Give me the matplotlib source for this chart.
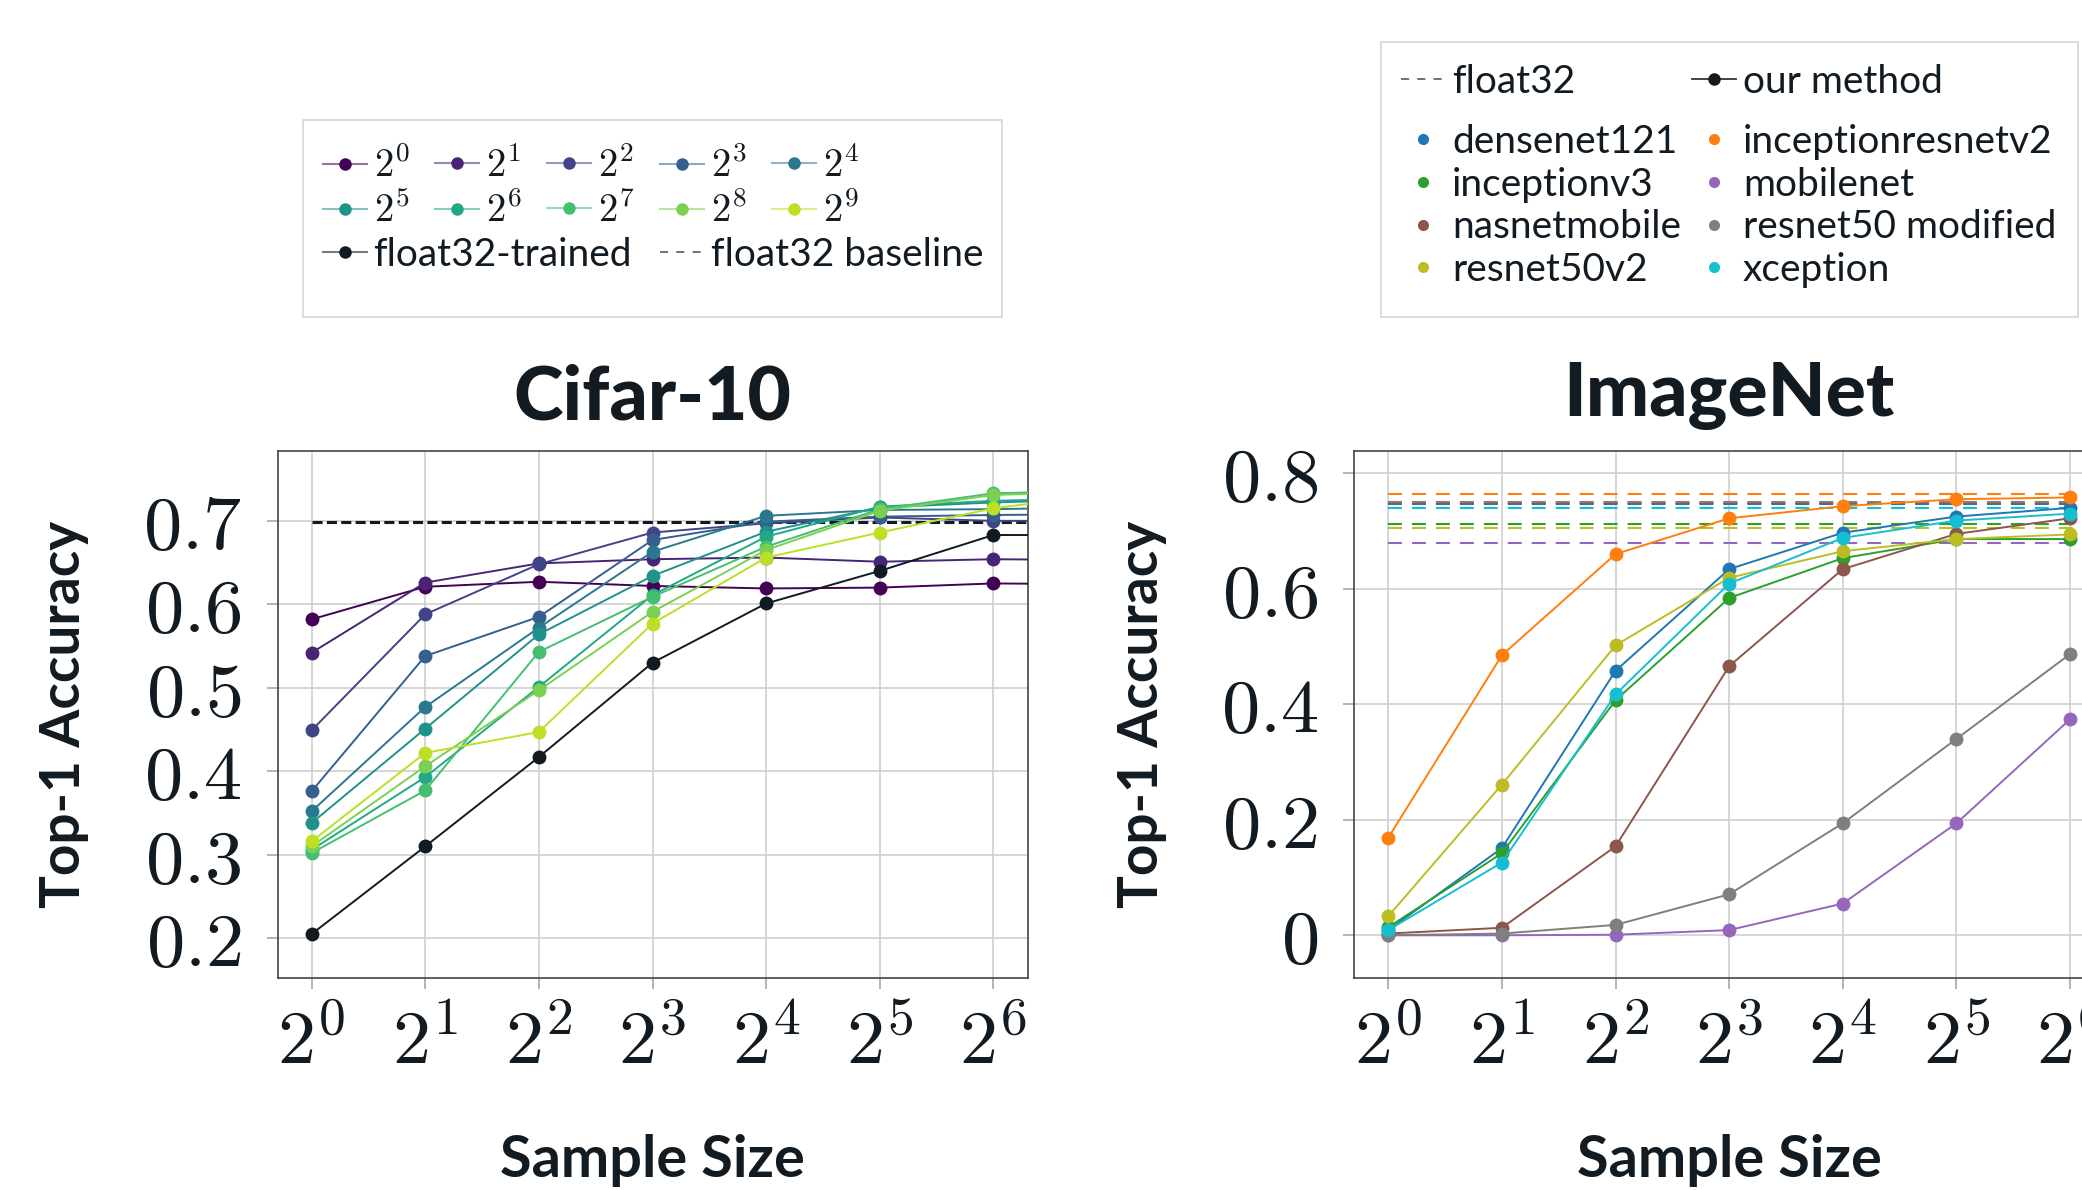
import numpy as np
import matplotlib
matplotlib.use("Agg")
import matplotlib.pyplot as plt
from matplotlib.lines import Line2D
from matplotlib.patches import Rectangle
from matplotlib.ticker import NullLocator

# ---------------- data ----------------
cifar_sizes = [1, 2, 4, 8, 16, 32, 64, 128]
cifar_labels = ["$2^{0}$", "$2^{1}$", "$2^{2}$", "$2^{3}$", "$2^{4}$",
                "$2^{5}$", "$2^{6}$", "$2^{7}$", "$2^{8}$", "$2^{9}$"]
c_2_0 = [0.582, 0.621, 0.627, 0.622, 0.619, 0.620, 0.625, 0.624]
c_2_1 = [0.542, 0.626, 0.649, 0.654, 0.656, 0.651, 0.654, 0.653]
c_2_2 = [0.449, 0.588, 0.648, 0.686, 0.697, 0.704, 0.700, 0.700]
c_2_3 = [0.376, 0.538, 0.585, 0.677, 0.699, 0.705, 0.707, 0.708]
c_2_4 = [0.352, 0.477, 0.572, 0.663, 0.706, 0.713, 0.714, 0.716]
c_2_5 = [0.338, 0.451, 0.564, 0.634, 0.687, 0.716, 0.722, 0.726]
c_2_6 = [0.306, 0.393, 0.501, 0.611, 0.681, 0.717, 0.724, 0.727]
c_2_7 = [0.302, 0.377, 0.543, 0.609, 0.669, 0.714, 0.733, 0.736]
c_2_8 = [0.310, 0.406, 0.497, 0.591, 0.665, 0.712, 0.731, 0.735]
c_2_9 = [0.316, 0.422, 0.447, 0.577, 0.656, 0.686, 0.715, 0.732]
cifar_series = [c_2_0, c_2_1, c_2_2, c_2_3, c_2_4, c_2_5, c_2_6, c_2_7, c_2_8, c_2_9]
cifar_float32_trained = [0.205, 0.310, 0.417, 0.530, 0.601, 0.640, 0.683, 0.683]
cifar_float32_baseline = 0.699
cifar_yticks = [0.2, 0.3, 0.4, 0.5, 0.6, 0.7]

imagenet_sizes = [1, 2, 4, 8, 16, 32, 64]
models = ["densenet121", "inceptionresnetv2", "inceptionv3", "mobilenet",
          "nasnetmobile", "resnet50 modified", "resnet50v2", "xception"]
model_colors = ["#1f77b4", "#ff7f0e", "#2ca02c", "#9467bd",
                "#8c564b", "#7f7f7f", "#bcbd22", "#17becf"]
densenet121 = [0.009, 0.151, 0.458, 0.634, 0.697, 0.725, 0.740]
inceptionresnetv2 = [0.169, 0.485, 0.660, 0.722, 0.743, 0.755, 0.758]
inceptionv3 = [0.014, 0.142, 0.407, 0.584, 0.653, 0.686, 0.686]
mobilenet = [0.000, 0.000, 0.001, 0.009, 0.055, 0.194, 0.374]
nasnetmobile = [0.003, 0.013, 0.154, 0.466, 0.634, 0.695, 0.722]
resnet50_modified = [0.000, 0.003, 0.018, 0.071, 0.194, 0.340, 0.487]
resnet50v2 = [0.033, 0.261, 0.502, 0.619, 0.665, 0.686, 0.694]
xception = [0.009, 0.126, 0.417, 0.609, 0.688, 0.718, 0.730]
imagenet_series = [densenet121, inceptionresnetv2, inceptionv3, mobilenet,
                   nasnetmobile, resnet50_modified, resnet50v2, xception]
imagenet_float32 = [0.747, 0.764, 0.712, 0.679, 0.749, 0.751, 0.705, 0.740]
imagenet_yticks = [0.0, 0.2, 0.4, 0.6, 0.8]

xtick_exps = [0, 1, 2, 3, 4, 5, 6]

# ---------------- style ----------------
plt.rcParams["font.family"] = ["Lato", "DejaVu Sans"]
plt.rcParams["mathtext.fontset"] = "cm"
TC = "#121a22"
GRID = "#cfcfcf"
W, H = 2082, 1190

fig = plt.figure(figsize=(W / 100, H / 100), dpi=100)


def fx(px):
    return px / W


def fy(py):
    return 1 - py / H


ax1 = fig.add_axes([fx(277.5), fy(977.8), 750 / W, 527.1 / H])
ax2 = fig.add_axes([fx(1354.2), fy(977.8), 750 / W, 527.1 / H])


def style(ax, yticks, ylim):
    ax.set_xscale("log", base=2)
    ax.set_xlim(2 ** -0.3, 2 ** 6.3)
    ax.set_ylim(*ylim)
    ax.set_xticks([2 ** e for e in xtick_exps])
    ax.set_xticklabels(["$2^{%d}$" % e for e in xtick_exps])
    ax.xaxis.set_minor_locator(NullLocator())
    ax.set_yticks(yticks)
    ax.set_yticklabels(["$%g$" % v for v in yticks])
    ax.grid(True, color=GRID, lw=1.2)
    ax.set_axisbelow(True)
    ax.tick_params(axis="both", direction="out", length=8, width=1.2,
                   color="#a8a8a8", labelsize=55, labelcolor=TC)
    ax.tick_params(axis="y", pad=18)
    ax.tick_params(axis="x", pad=14)
    for s in ax.spines.values():
        s.set_color("#444444")
        s.set_linewidth(1.2)
    ax.set_xlabel("Sample Size", fontsize=41.5, fontweight="bold", color=TC,
                  va="baseline")
    ax.xaxis.set_label_coords(0.5, -0.378)
    ax.set_ylabel("Top-1 Accuracy", fontsize=39.5, fontweight="bold", color=TC,
                  va="center")


style(ax1, cifar_yticks, (0.1526, 0.784))
style(ax2, imagenet_yticks, (-0.0736, 0.839))
ax1.yaxis.set_label_coords(-0.2847, 0.5)
ax2.yaxis.set_label_coords(-0.283, 0.5)

ax1.text(0.5, 1.0585, "Cifar-10", transform=ax1.transAxes, ha="center",
         va="baseline", fontsize=54, fontweight="black", color=TC)
ax2.text(0.5, 1.066, "ImageNet", transform=ax2.transAxes, ha="center",
         va="baseline", fontsize=54, fontweight="black", color=TC)

# ---------------- cifar ----------------
vir = plt.cm.viridis(np.linspace(0, 0.9, 10))
ax1.plot([cifar_sizes[0], cifar_sizes[-1]], [cifar_float32_baseline] * 2,
         color=TC, lw=2.2, ls=(0, (3.3, 1.4)), zorder=2)
for vals, col in zip(cifar_series, vir):
    ax1.plot(cifar_sizes, vals, color=col, lw=1.4, marker="o", ms=10,
             mew=0, zorder=3)
ax1.plot(cifar_sizes, cifar_float32_trained, color=TC, lw=1.4, marker="o",
         ms=10, mew=0, zorder=3)

# ---------------- imagenet ----------------
for base, col in zip(imagenet_float32, model_colors):
    ax2.plot([1, 128], [base, base], color=col, lw=1.5, ls=(0, (6.7, 4.8)),
             zorder=2)
for vals, col in zip(imagenet_series, model_colors):
    ax2.plot(imagenet_sizes, vals, color=col, lw=1.4, marker="o", ms=10,
             mew=0, zorder=3)

# ---------------- legends ----------------
LFS = 28


def entry(handle, label, x_px, y_px):
    fig.legend([handle], [label], loc="center left",
               bbox_to_anchor=(fx(x_px), fy(y_px)),
               bbox_transform=fig.transFigure, frameon=False, borderpad=0,
               borderaxespad=0, handlelength=1.13, handletextpad=0.18,
               prop={"family": ["Lato", "DejaVu Sans"], "weight": "normal",
                     "size": LFS},
               labelcolor=TC)


def frame(x0, y0, x1, y1):
    fig.add_artist(Rectangle((fx(x0), fy(y1)), (x1 - x0) / W, (y1 - y0) / H,
                             transform=fig.transFigure, fill=False,
                             edgecolor="#d6d6d6", lw=1.2))


frame(303, 120, 1002, 317)
cx = [322.6, 435.1, 547.4, 659.8, 772.0]
cy = [165, 210]
for i, (lab, col) in enumerate(zip(cifar_labels, vir)):
    r, c = divmod(i, 5)
    h = Line2D([], [], color=(col[0], col[1], col[2], 0.55), lw=1.5,
               marker="o", ms=9, mfc=col, mec=col, mew=0)
    entry(h, lab, cx[c], cy[r])
entry(Line2D([], [], color="#7a7a7a", lw=1.5, marker="o", ms=9, mfc=TC,
             mew=0), "float32-trained", cx[0], 255)
entry(Line2D([], [], color="#666666", lw=1.3, ls=(0, (4.5, 4.5))),
      "float32 baseline", cx[3], 255)

frame(1381.4, 41.7, 2077.7, 317.3)
ix = [1401, 1692]
iy = [142, 185, 227.5, 270]
entry(Line2D([], [], color="#666666", lw=1.3, ls=(0, (4.5, 4.5))),
      "float32", ix[0], 82)
entry(Line2D([], [], color="#333333", lw=1.3, marker="o", ms=9, mfc=TC,
             mew=0), "our method", ix[1], 82)
for k, idx in enumerate([0, 2, 4, 6, 1, 3, 5, 7]):
    c, r = divmod(k, 4)
    entry(Line2D([], [], ls="none", marker="o", ms=8, color=model_colors[idx],
                 mew=0), models[idx], ix[c], iy[r])

fig.savefig("out.png", dpi=100, facecolor="white")
